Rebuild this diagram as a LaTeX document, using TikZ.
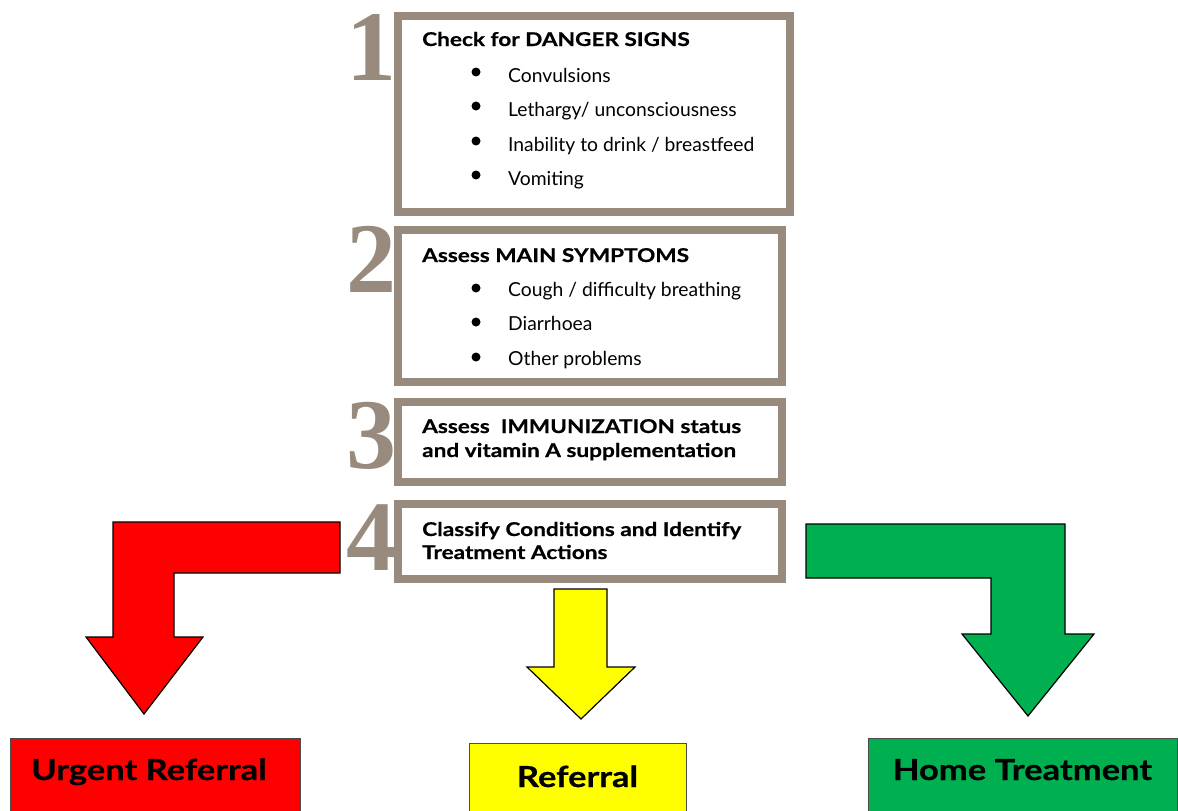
\documentclass[tikz,border=0pt]{standalone}
\usepackage{fontspec}
\setmainfont{Lato}
\newfontfamily\headfont[FakeStretch=1.19,FakeBold=0.6]{Lato}
\newfontfamily\digitfont{Liberation Serif}
\definecolor{stepgray}{RGB}{152,139,126}
\definecolor{urgentred}{RGB}{255,0,0}
\definecolor{referyellow}{RGB}{255,255,0}
\definecolor{homegreen}{RGB}{0,176,80}

\begin{document}
\begin{tikzpicture}[x=1pt,y=-1pt,
  stepframe/.style={line width=8pt,draw=stepgray,fill=white},
  digit/.style={anchor=base east,inner sep=0pt,text=stepgray,font=\digitfont\bfseries\fontsize{100}{100}\selectfont},
  head/.style={anchor=base west,inner sep=0pt,font=\headfont\bfseries\fontsize{19}{23}\selectfont},
  item/.style={anchor=base west,inner sep=0pt,font=\fontsize{19.3}{23}\selectfont},
  blockarrow/.style={draw=black,line width=1.2pt,line join=miter},
  outcome/.style={draw=black!70,line width=1pt},
  outcometext/.style={anchor=base,inner sep=0pt,font=\headfont\bfseries\fontsize{29}{33}\selectfont}]
\path[use as bounding box,clip] (0,0) rectangle (1178,811);

% step numbers
\node[digit] (n1) at (397,80) {1};
\node[digit] (n2) at (397,292) {2};
\node[digit] (n3) at (397,468) {3};
\node[digit] (n4) at (397,570) {4};

% step boxes
\draw[stepframe] (398,16) rectangle (790,212);
\draw[stepframe] (398,230) rectangle (782,382);
\draw[stepframe] (398,402) rectangle (782,482);
\draw[stepframe] (398,504) rectangle (782,579);

\node[head] (h1) at (422,46) {Check for DANGER SIGNS};
\fill (476,72) circle (4.5);
\node[item] (h1a) at (508,82) {Convulsions};
\fill (476,106) circle (4.5);
\node[item] (h1b) at (508,116) {Lethargy/ unconsciousness};
\fill (476,141) circle (4.5);
\node[item] (h1c) at (508,151) {Inability to drink / breastfeed};
\fill (476,175) circle (4.5);
\node[item] (h1d) at (508,185) {Vomiting};

\node[head] (h2) at (422,262) {Assess MAIN SYMPTOMS};
\fill (476,288) circle (4.5);
\node[item] (h2a) at (508,296) {Cough / difficulty breathing};
\fill (476,322) circle (4.5);
\node[item] (h2b) at (508,330) {Diarrhoea};
\fill (476,357) circle (4.5);
\node[item] (h2c) at (508,365) {Other problems};

\node[head] (h3a) at (422,433) {Assess\ \ IMMUNIZATION status};
\node[head] (h3b) at (422,457) {and vitamin A supplementation};

\node[head] (h4a) at (422,536) {Classify Conditions and Identify};
\node[head] (h4b) at (422,559) {Treatment Actions};

% block arrows
\draw[blockarrow,fill=urgentred] (340,522) -- (113,522) -- (113,637) -- (86,637) -- (144,714)
  -- (203,637) -- (174,637) -- (174,573) -- (340,573) -- cycle;
\draw[blockarrow,fill=referyellow] (554,589) -- (607,589) -- (607,667) -- (635,667) -- (581,719)
  -- (527,667) -- (554,667) -- cycle;
\draw[blockarrow,fill=homegreen] (806,524) -- (1065,524) -- (1065,634) -- (1094,634) -- (1028,716)
  -- (962,634) -- (991,634) -- (991,578) -- (806,578) -- cycle;

% outcomes
\draw[outcome,fill=urgentred] (10,738) rectangle (300,814);
\node[outcometext] (urgent) at (149,780) {Urgent Referral};
\draw[outcome,fill=referyellow] (469,743) rectangle (686,814);
\node[outcometext] (refer) at (577.5,787) {Referral};
\draw[outcome,fill=homegreen] (868,738) rectangle (1177,814);
\node[outcometext] (home) at (1022.5,780) {Home Treatment};
\end{tikzpicture}
\end{document}
